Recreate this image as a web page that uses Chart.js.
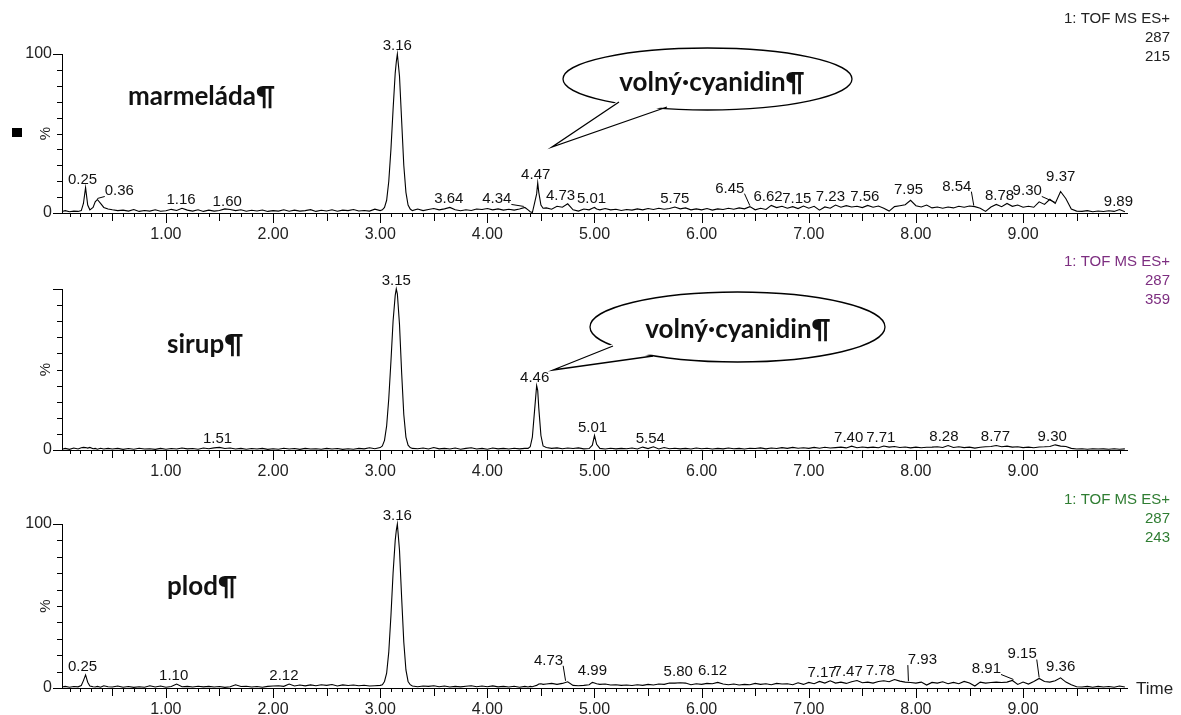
<!DOCTYPE html>
<html>
<head>
<meta charset="utf-8">
<title>Chromatogramy - cyanidin</title>
<script src="https://cdn.jsdelivr.net/npm/chart.js@4.4.1/dist/chart.umd.min.js"></script>
<style>
  body { margin: 0; background: #fff; }
  #wrap { position: relative; width: 1181px; height: 715px; overflow: hidden; }
  #wrap canvas { position: absolute; left: 0; }
</style>
</head>
<body>
<div id="wrap">
  <canvas id="c1" width="1181" height="240" style="top:0px"></canvas>
  <canvas id="c2" width="1181" height="240" style="top:240px"></canvas>
  <canvas id="c3" width="1181" height="240" style="top:475px"></canvas>
</div>
<script>
// retention time (min), shared by the three traces
const rt = [
  0.03, 0.06, 0.10, 0.14, 0.18, 0.21, 0.23, 0.25, 0.27, 0.29, 0.32, 0.34, 0.36, 0.39, 0.42, 0.46,
  0.50, 0.55, 0.60, 0.65, 0.70, 0.75, 0.80, 0.85, 0.90, 0.95,
  1.00, 1.05, 1.10, 1.15, 1.20, 1.25, 1.30, 1.35, 1.40, 1.45,
  1.50, 1.55, 1.60, 1.65, 1.70, 1.75, 1.80, 1.85, 1.90, 1.95,
  2.00, 2.05, 2.10, 2.15, 2.20, 2.25, 2.30, 2.35, 2.40, 2.45,
  2.50, 2.55, 2.60, 2.65, 2.70, 2.75, 2.80, 2.85, 2.90, 2.95, 3.00,
  3.02, 3.04, 3.06, 3.08, 3.10, 3.12, 3.14, 3.15, 3.16, 3.18, 3.20, 3.22, 3.24, 3.26, 3.28, 3.30,
  3.35, 3.40, 3.45, 3.50, 3.55, 3.60, 3.65, 3.70, 3.75, 3.80, 3.85, 3.90, 3.95, 4.00, 4.05, 4.10,
  4.15, 4.20, 4.25, 4.30, 4.35,
  4.38, 4.40, 4.42, 4.44, 4.46, 4.47, 4.48, 4.50, 4.52,
  4.55, 4.60, 4.65, 4.70, 4.75, 4.80, 4.85, 4.90, 4.95,
  4.98, 5.00, 5.02,
  5.05, 5.10, 5.15, 5.20, 5.25, 5.30, 5.35, 5.40, 5.45, 5.50,
  5.55, 5.60, 5.65, 5.70, 5.75, 5.80, 5.85, 5.90, 5.95, 6.00,
  6.05, 6.10, 6.15, 6.20, 6.25, 6.30, 6.35, 6.40, 6.45, 6.50,
  6.55, 6.60, 6.65, 6.70, 6.75, 6.80, 6.85, 6.90, 6.95, 7.00,
  7.05, 7.10, 7.15, 7.20, 7.25, 7.30, 7.35, 7.40, 7.45, 7.50,
  7.55, 7.60, 7.65, 7.70, 7.75, 7.80, 7.85, 7.90, 7.95, 8.00,
  8.05, 8.10, 8.15, 8.20, 8.25, 8.30, 8.35, 8.40, 8.45, 8.50,
  8.55, 8.60, 8.65, 8.70, 8.75, 8.80, 8.85, 8.90, 8.95, 9.00,
  9.05, 9.10, 9.15, 9.20, 9.25, 9.30, 9.35, 9.40, 9.45, 9.50,
  9.55, 9.60, 9.65, 9.70, 9.75, 9.80, 9.85, 9.90, 9.95
];

// relative intensity (%), m/z 287 trace of each sample
const marmelada = [
  1.0, 1.5, 0.8, 1.2, 1.0, 1.5, 6.0, 16.0, 5.0, 2.0, 3.5, 7.0, 8.5, 6.0, 3.5, 2.5,
  2.0, 1.5, 1.8, 1.2, 2.2, 1.0, 1.6, 1.2, 2.0, 1.1,
  1.4, 2.3, 1.6, 3.0, 1.8, 1.2, 2.0, 1.0, 1.8, 1.2,
  1.6, 2.6, 2.2, 1.5, 2.0, 1.1, 1.7, 1.3, 1.9, 1.0,
  1.5, 1.2, 2.0, 1.1, 1.8, 1.2, 1.5, 2.1, 1.0, 1.7,
  1.3, 2.0, 1.1, 1.8, 1.5, 2.2, 1.3, 1.6, 1.2, 2.4, 1.5,
  2.0, 3.5, 8.0, 20, 40, 65, 88, 95, 100, 86, 58, 30, 13, 5.0, 2.5, 1.5,
  2.5, 1.5, 2.2, 2.8, 2.0, 2.6, 3.5, 2.0, 1.4, 2.0, 1.6, 2.5, 2.2, 2.8, 2.0, 2.6,
  1.8, 2.4, 1.8, 2.5, 3.5,
  2.0, 0.8, 0.3, 6.0, 12, 19, 13, 5.0, 3.0,
  3.2, 2.4, 4.2, 3.6, 5.8, 2.0, 1.2, 2.5, 2.0,
  3.0, 3.5, 2.5,
  2.0, 2.8, 2.0, 2.4, 1.6, 2.2, 1.8, 2.6, 2.0, 2.8,
  2.2, 3.0, 2.4, 2.8, 3.8, 2.6, 3.2, 2.0, 2.6, 2.0,
  2.8, 1.8, 2.6, 2.2, 3.0, 2.4, 3.2, 2.6, 4.0, 2.0,
  3.0, 2.2, 4.8, 3.4, 4.2, 3.0, 4.0, 2.8, 4.4, 3.0,
  4.2, 1.8, 3.8, 3.0, 5.0, 3.6, 4.6, 3.8, 4.2, 3.4,
  4.8, 3.6, 4.4, 3.0, 1.2, 4.0, 4.6, 5.2, 8.0, 4.6,
  3.8, 5.0, 3.2, 3.8, 3.0, 3.8, 3.2, 4.2, 3.6, 4.4,
  4.0, 3.0, 1.0, 3.8, 5.4, 4.0, 6.0, 4.2, 5.0, 3.6,
  4.2, 3.6, 7.0, 5.4, 8.6, 6.0, 13.5, 9.0, 2.5, 1.2,
  1.0, 1.5, 0.8, 1.3, 0.9, 1.4, 1.0, 2.2, 0.8
];
const sirup = [
  0.5, 1.0, 0.4, 1.2, 0.6, 1.4, 1.6, 1.5, 1.2, 1.6, 0.8, 1.0, 0.5, 1.1, 0.6, 1.0,
  0.6, 1.0, 0.4, 0.9, 0.5, 1.1, 0.6, 0.8, 0.4, 1.0,
  0.5, 0.9, 0.6, 1.2, 0.7, 0.9, 0.5, 1.2, 0.8, 1.3,
  1.6, 0.9, 1.2, 0.6, 1.0, 0.5, 0.9, 0.6, 1.0, 0.4,
  0.8, 0.5, 1.1, 0.6, 0.9, 0.4, 1.0, 0.6, 0.8, 0.5,
  1.0, 0.6, 0.9, 0.4, 0.8, 0.5, 1.0, 0.7, 1.4, 0.8, 1.5,
  2.5, 6.0, 15, 32, 55, 80, 96, 100, 97, 78, 48, 22, 8.0, 3.0, 1.5, 1.0,
  0.8, 1.2, 0.6, 1.5, 0.7, 1.0, 0.6, 1.2, 0.5, 1.0, 1.4, 0.6, 1.0, 0.5, 1.2, 0.7,
  1.0, 0.6, 1.1, 0.7, 1.0,
  1.0, 2.0, 8.0, 24, 40, 37, 26, 9.0, 2.5,
  1.5, 1.0, 1.3, 0.8, 1.2, 0.9, 1.3, 0.7, 0.9,
  3.0, 9.0, 3.5,
  1.0, 0.6, 1.1, 0.7, 1.0, 0.8, 1.2, 0.6, 1.8, 0.9,
  2.0, 0.6, 1.5, 0.8, 1.1, 0.7, 1.0, 0.6, 1.2, 0.8,
  1.1, 0.6, 1.0, 0.7, 1.2, 0.8, 1.0, 0.6, 1.1, 0.9,
  1.3, 0.7, 1.2, 0.9, 1.5, 1.0, 1.6, 1.1, 1.4, 1.0,
  1.6, 1.1, 1.7, 1.2, 1.5, 1.8, 1.3, 2.4, 1.4, 1.9,
  1.5, 1.8, 1.4, 2.5, 1.8, 2.2, 1.6, 1.9, 1.3, 1.8,
  1.4, 1.7, 1.8, 2.0, 1.6, 2.8, 1.6, 2.0, 1.5, 1.8,
  1.2, 1.7, 2.0, 2.2, 2.8, 2.0, 2.4, 1.8, 2.0, 1.5,
  1.8, 1.4, 1.9, 2.0, 2.2, 3.2, 2.4, 2.2, 1.0, 0.6,
  0.8, 0.5, 0.8, 0.6, 0.7, 0.5, 0.8, 0.5, 0.7
];
const plod = [
  0.6, 1.0, 0.5, 0.9, 0.7, 1.5, 4.5, 8.0, 3.5, 1.2, 0.8, 0.6, 1.0, 0.5, 1.4, 0.8,
  0.6, 1.2, 0.5, 0.9, 0.4, 0.8, 0.5, 1.4, 0.6, 1.2,
  0.5, 0.9, 2.4, 0.8, 1.0, 0.6, 1.1, 0.7, 1.0, 0.6,
  0.9, 0.4, 0.8, 2.0, 0.9, 1.1, 0.6, 0.9, 0.5, 1.0,
  1.2, 1.4, 1.0, 2.4, 1.2, 1.8, 1.3, 1.9, 1.4, 2.0,
  1.6, 2.1, 1.2, 1.9, 1.5, 1.8, 1.4, 1.7, 1.2, 1.4, 1.6,
  2.0, 4.0, 9.0, 22, 44, 70, 90, 96, 100, 84, 55, 28, 11, 4.0, 2.0, 1.2,
  0.8, 1.2, 1.0, 1.4, 0.8, 1.2, 0.6, 1.0, 0.7, 1.1, 1.4, 0.8, 1.2, 0.8, 1.3, 0.7,
  1.0, 0.6, 1.1, 0.5, 1.0,
  0.6, 1.0, 0.8, 1.2, 1.6, 2.0, 2.4, 2.6, 2.2,
  2.4, 2.8, 2.2, 2.8, 3.8, 1.6, 1.4, 1.6, 2.0,
  3.4, 3.0, 2.6,
  2.2, 2.4, 1.8, 2.0, 1.6, 1.8, 1.5, 2.0, 1.6, 2.2,
  1.8, 2.4, 2.2, 3.0, 3.0, 3.2, 3.0, 2.0, 2.6, 2.2,
  2.8, 2.6, 3.4, 2.4, 2.0, 2.4, 1.8, 2.2, 2.0, 2.8,
  2.2, 2.6, 2.0, 2.8, 2.4, 2.6, 2.0, 3.2, 2.2, 3.4,
  2.6, 4.0, 3.0, 4.4, 3.0, 3.6, 2.8, 3.8, 4.6, 3.2,
  3.6, 3.0, 4.0, 4.4, 3.8, 5.2, 4.2, 3.6, 3.4, 3.0,
  3.6, 1.8, 3.4, 3.0, 3.8, 2.6, 3.4, 2.6, 4.0, 3.0,
  1.2, 3.6, 3.0, 3.4, 3.6, 3.4, 3.6, 4.6, 2.2, 3.6,
  2.4, 4.0, 5.8, 4.0, 3.6, 4.4, 6.2, 3.6, 2.0, 0.8,
  0.6, 1.0, 0.5, 1.0, 0.6, 0.9, 0.5, 1.2, 0.6
];

// labelled peak apexes (min)
const marmeladaPeaks = [0.25, 0.36, 1.16, 1.60, 3.16, 3.64, 4.34, 4.47, 4.73, 5.01, 5.75,
  6.45, 6.62, 7.15, 7.23, 7.56, 7.95, 8.54, 8.78, 9.30, 9.37, 9.89];
const sirupPeaks = [1.51, 3.15, 4.46, 5.01, 5.54, 7.40, 7.71, 8.28, 8.77, 9.30];
const plodPeaks = [0.25, 1.10, 2.12, 3.16, 4.73, 4.99, 5.80, 6.12, 7.17, 7.47, 7.78, 7.93,
  8.91, 9.15, 9.36];

const xTickLabels = ['1.00', '2.00', '3.00', '4.00', '5.00', '6.00', '7.00', '8.00', '9.00'];
const yTicks = [0, 10, 20, 30, 40, 50, 60, 70, 80, 90, 100];
const sampleNames = ['marmeláda¶', 'sirup¶', 'plod¶'];
const calloutText = 'volný·cyanidin¶';
const channel1 = ['1: TOF MS ES+', '287', '215'];
const channel2 = ['1: TOF MS ES+', '287', '359'];
const channel3 = ['1: TOF MS ES+', '287', '243'];

const FONT = '"Liberation Sans", Arial, sans-serif';
const BOLD = 'bold 26px Lato, "Noto Sans", sans-serif';

// minor time ticks every 0.1 min
const timeTicks = [];
for (let i = 1; i <= 99; i++) timeTicks.push(i / 10);

// per panel layout (label nudges in px: [dx, dy, leader])
const panelCfg = {
  c1: {
    peaks: marmeladaPeaks,
    nudge: { '0.25': [-3, 0], '0.36': [22, 0, 1], '1.16': [-2, 0], '1.60': [-3, 0],
      '4.34': [-27, 0, 1], '4.47': [-2, 0], '4.73': [-5, 0], '5.01': [-4, 0],
      '6.45': [-20, -10, 1], '7.15': [-28, 0], '7.23': [-3, 0], '7.56': [-4, 0],
      '7.95': [-2, -2], '8.54': [-17, -12, 1], '9.30': [-28, -4, 1], '9.37': [-2, -7] },
    caption: channel1, captionColor: '#222', captionY: [19, 38, 57],
    sample: sampleNames[0], sampleAt: [128, 105],
    callout: { cx: 707.5, cy: 79, rx: 144.5, ry: 31, b1: [619, 102], b2: [667, 107], tip: [552, 147], tx: 712, ty: 91 },
    marker: true
  },
  c2: {
    peaks: sirupPeaks,
    nudge: { '1.51': [-3, 0], '4.46': [-2, 0], '5.01': [-3, 0], '5.54': [-2, 0], '7.40': [-3, 0],
      '7.71': [-4, 0], '8.28': [-2, 0], '8.77': [-3, 0], '9.30': [-3, 0] },
    caption: channel2, captionColor: '#7d2e80', captionY: [22, 41, 60],
    sample: sampleNames[1], sampleAt: [167, 113],
    callout: { cx: 737.5, cy: 87, rx: 147.5, ry: 35, b1: [613, 106], b2: [653, 116], tip: [553, 130], tx: 738, ty: 98 }
  },
  c3: {
    peaks: plodPeaks,
    nudge: { '0.25': [-3, 0], '1.10': [-3, 0], '2.12': [-2, 0], '4.73': [-17, -13, 1],
      '4.99': [-1, -3], '5.80': [-2, -3], '6.12': [-2, -3], '7.17': [-5, 0], '7.47': [-11, 0],
      '7.78': [-12, 0], '7.93': [14, -14, 1], '8.91': [-27, -3, 1], '9.15': [-17, -16, 1],
      '9.36': [-1, -3] },
    caption: channel3, captionColor: '#2f7d32', captionY: [25, 44, 63],
    sample: sampleNames[2], sampleAt: [167, 120],
    timeLabel: true
  }
};

const msDecor = {
  id: 'msDecor',
  afterDraw(chart) {
    const cfg = panelCfg[chart.canvas.id];
    const ctx = chart.ctx;
    const xs = chart.scales.x, ys = chart.scales.y;
    const area = chart.chartArea;
    ctx.save();
    ctx.strokeStyle = '#000';
    ctx.lineWidth = 1;

    // tick marks
    ctx.beginPath();
    xs.ticks.forEach(t => {
      const px = Math.round(xs.getPixelForValue(t.value)) + 0.5;
      const k = Math.round(t.value * 10);
      const len = k % 10 === 0 ? 10 : (k % 5 === 0 ? 8 : 4);
      ctx.moveTo(px, area.bottom);
      ctx.lineTo(px, area.bottom + len);
    });
    ys.ticks.forEach(t => {
      const py = Math.round(ys.getPixelForValue(t.value)) + 0.5;
      const len = (t.value === 0 || t.value === 100) ? 9 : 5;
      ctx.moveTo(area.left - len, py);
      ctx.lineTo(area.left, py);
    });
    ctx.stroke();

    // % sign on the y axis
    ctx.save();
    ctx.translate(area.left - 16, ys.getPixelForValue(50));
    ctx.rotate(-Math.PI / 2);
    ctx.fillStyle = '#222';
    ctx.font = '15px ' + FONT;
    ctx.textAlign = 'center';
    ctx.textBaseline = 'middle';
    ctx.fillText('%', 0, 0);
    ctx.restore();

    // peak apex labels
    const pts = chart.data.datasets[0].data;
    ctx.font = '15px ' + FONT;
    ctx.fillStyle = '#111';
    ctx.textAlign = 'center';
    ctx.textBaseline = 'alphabetic';
    cfg.peaks.forEach(t => {
      const key = t.toFixed(2);
      let top = 0;
      pts.forEach(p => { if (Math.abs(p.x - t) <= 0.035 && p.y > top) top = p.y; });
      const px = xs.getPixelForValue(t), py = ys.getPixelForValue(top);
      const [dx, dy, leader] = cfg.nudge[key] || [0, 0, 0];
      const lx = px + dx, ly = py - 4 + dy;
      ctx.fillText(key, lx, ly);
      if (leader) {
        const hw = ctx.measureText(key).width / 2;
        const ex = dx < 0 ? lx + hw : lx - hw;
        ctx.beginPath();
        ctx.moveTo(ex, ly + 1);
        ctx.lineTo(px, py - 1);
        ctx.stroke();
      }
    });

    // channel description, top right
    ctx.font = '15px ' + FONT;
    ctx.fillStyle = cfg.captionColor;
    ctx.textAlign = 'right';
    ctx.textBaseline = 'middle';
    cfg.caption.forEach((s, i) => ctx.fillText(s, 1170, cfg.captionY[i]));

    // sample name
    ctx.font = BOLD;
    ctx.fillStyle = '#111';
    ctx.textAlign = 'left';
    ctx.textBaseline = 'alphabetic';
    ctx.fillText(cfg.sample, cfg.sampleAt[0], cfg.sampleAt[1]);

    // speech bubble
    const c = cfg.callout;
    if (c) {
      ctx.lineWidth = 1.3;
      ctx.fillStyle = '#fff';
      ctx.beginPath();
      ctx.ellipse(c.cx, c.cy, c.rx, c.ry, 0, 0, Math.PI * 2);
      ctx.fill();
      ctx.stroke();
      ctx.beginPath();
      ctx.moveTo(c.b1[0], c.b1[1] - 2);
      ctx.lineTo(c.tip[0], c.tip[1]);
      ctx.lineTo(c.b2[0], c.b2[1] - 2);
      ctx.closePath();
      ctx.fill();
      ctx.beginPath();
      ctx.moveTo(c.b1[0], c.b1[1]);
      ctx.lineTo(c.tip[0], c.tip[1]);
      ctx.lineTo(c.b2[0], c.b2[1]);
      ctx.stroke();
      ctx.font = BOLD;
      ctx.fillStyle = '#111';
      ctx.textAlign = 'center';
      ctx.fillText(calloutText, c.tx, c.ty);
    }

    if (cfg.marker) {
      ctx.fillStyle = '#000';
      ctx.fillRect(12, 128, 10, 9);
    }
    if (cfg.timeLabel) {
      ctx.font = '17px ' + FONT;
      ctx.fillStyle = '#222';
      ctx.textAlign = 'left';
      ctx.textBaseline = 'middle';
      ctx.fillText('Time', 1136, area.bottom + 1);
    }
    ctx.restore();
  }
};

function makePanel(id, series, top, axisH, show100) {
  return new Chart(document.getElementById(id), {
    type: 'line',
    data: {
      datasets: [{
        data: rt.map((t, i) => ({ x: t, y: series[i] })),
        borderColor: '#000',
        borderWidth: 1.1,
        pointRadius: 0,
        tension: 0,
        fill: false,
        clip: 6
      }]
    },
    options: {
      responsive: false,
      animation: false,
      layout: { padding: { left: 0, right: 54, top: top, bottom: 0 } },
      plugins: { legend: { display: false }, tooltip: { enabled: false } },
      scales: {
        x: {
          type: 'linear',
          min: 0.03,
          max: 9.97,
          afterBuildTicks: s => { s.ticks = timeTicks.map(v => ({ value: v })); },
          afterFit: s => { s.height = axisH; },
          grid: { display: false, drawTicks: false },
          border: { color: '#000', width: 1 },
          ticks: {
            autoSkip: false,
            maxRotation: 0,
            padding: 12,
            color: '#222',
            font: { family: FONT, size: 16 },
            callback: v => {
              const k = Math.round(v * 10);
              return k % 10 === 0 ? xTickLabels[k / 10 - 1] : '';
            }
          }
        },
        y: {
          min: 0,
          max: 100,
          afterBuildTicks: s => { s.ticks = yTicks.map(v => ({ value: v })); },
          afterFit: s => { s.width = 62; },
          grid: { display: false, drawTicks: false },
          border: { color: '#000', width: 1 },
          ticks: {
            autoSkip: false,
            padding: 10,
            color: '#222',
            font: { family: FONT, size: 16 },
            callback: v => (v === 0 ? '0' : (v === 100 && show100 ? '100' : ''))
          }
        }
      }
    },
    plugins: [msDecor]
  });
}

makePanel('c1', marmelada, 54, 27, true);
makePanel('c2', sirup, 49, 30, false);
makePanel('c3', plod, 49, 27, true);
</script>
</body>
</html>
